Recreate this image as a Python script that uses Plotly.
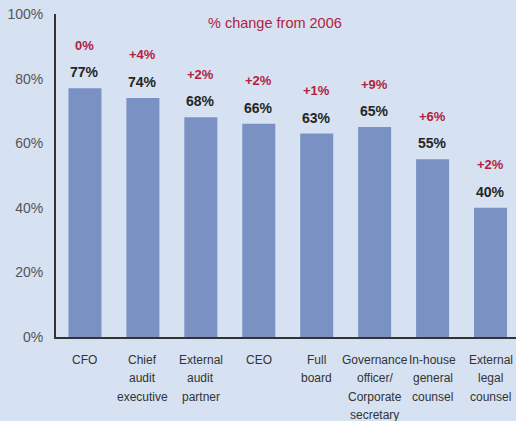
import plotly.graph_objects as go

categories = ["CFO", "Chief<br>audit<br>executive", "External<br>audit<br>partner", "CEO",
              "Full<br>board", "Governance<br>officer/<br>Corporate<br>secretary",
              "In-house<br>general<br>counsel", "External<br>legal<br>counsel"]
values = [77, 74, 68, 66, 63, 65, 55, 40]
changes = ["0%", "+4%", "+2%", "+2%", "+1%", "+9%", "+6%", "+2%"]
y_ticks = [0, 20, 40, 60, 80, 100]
y_tick_labels = ["0%", "20%", "40%", "60%", "80%", "100%"]

BG = "#D6E1F1"
BAR = "#7A91C4"
RED = "#B3223F"
DARK = "#262626"
SANS = "Liberation Sans, Arial, sans-serif"

xs = list(range(len(categories)))

fig = go.Figure()
fig.add_trace(go.Bar(x=xs, y=values, marker=dict(color=BAR, line=dict(width=0)),
                     width=0.57, hoverinfo="skip"))

for x, v, c in zip(xs, values, changes):
    fig.add_annotation(x=x, y=v, text=f"<b>{v}%</b>", showarrow=False, yshift=16,
                       font=dict(size=14, color=DARK, family=SANS))
    fig.add_annotation(x=x, y=v, text=f"<b>{c}</b>", showarrow=False, yshift=43,
                       font=dict(size=13, color=RED, family=SANS))

# category labels, one annotation per line for tighter control of line spacing
for x, cat in zip(xs, categories):
    for i, line in enumerate(cat.split("<br>")):
        fig.add_annotation(x=x, xref="x", y=0, yref="paper", text=line, showarrow=False,
                           yanchor="middle", yshift=-23 - 18.3 * i,
                           font=dict(size=12, color="#333333", family=SANS))

fig.add_annotation(xref="paper", yref="paper", x=0.476, y=0.973, text="% change from 2006",
                   showarrow=False, yanchor="middle",
                   font=dict(size=14.5, color=RED, family=SANS))

fig.update_layout(
    width=516, height=421,
    margin=dict(l=56, r=0, t=14, b=84),
    paper_bgcolor=BG, plot_bgcolor=BG,
    showlegend=False,
    xaxis=dict(range=[-0.5, 7.44], tickvals=xs, showticklabels=False, showgrid=False,
               showline=True, linecolor="#333333", linewidth=2, ticks="", zeroline=False,
               fixedrange=True),
    yaxis=dict(range=[0, 100], tickvals=y_ticks, ticktext=y_tick_labels, showgrid=False,
               showline=True, linecolor="#333333", linewidth=2, ticks="", zeroline=False,
               tickfont=dict(size=14, color="#555555", family=SANS),
               ticklabelstandoff=8, fixedrange=True),
)

fig.write_html("out.html", config={"displayModeBar": False},
               post_script="document.body.style.margin='0';document.body.style.overflow='hidden';"
                           "document.body.style.background='" + BG + "';")
